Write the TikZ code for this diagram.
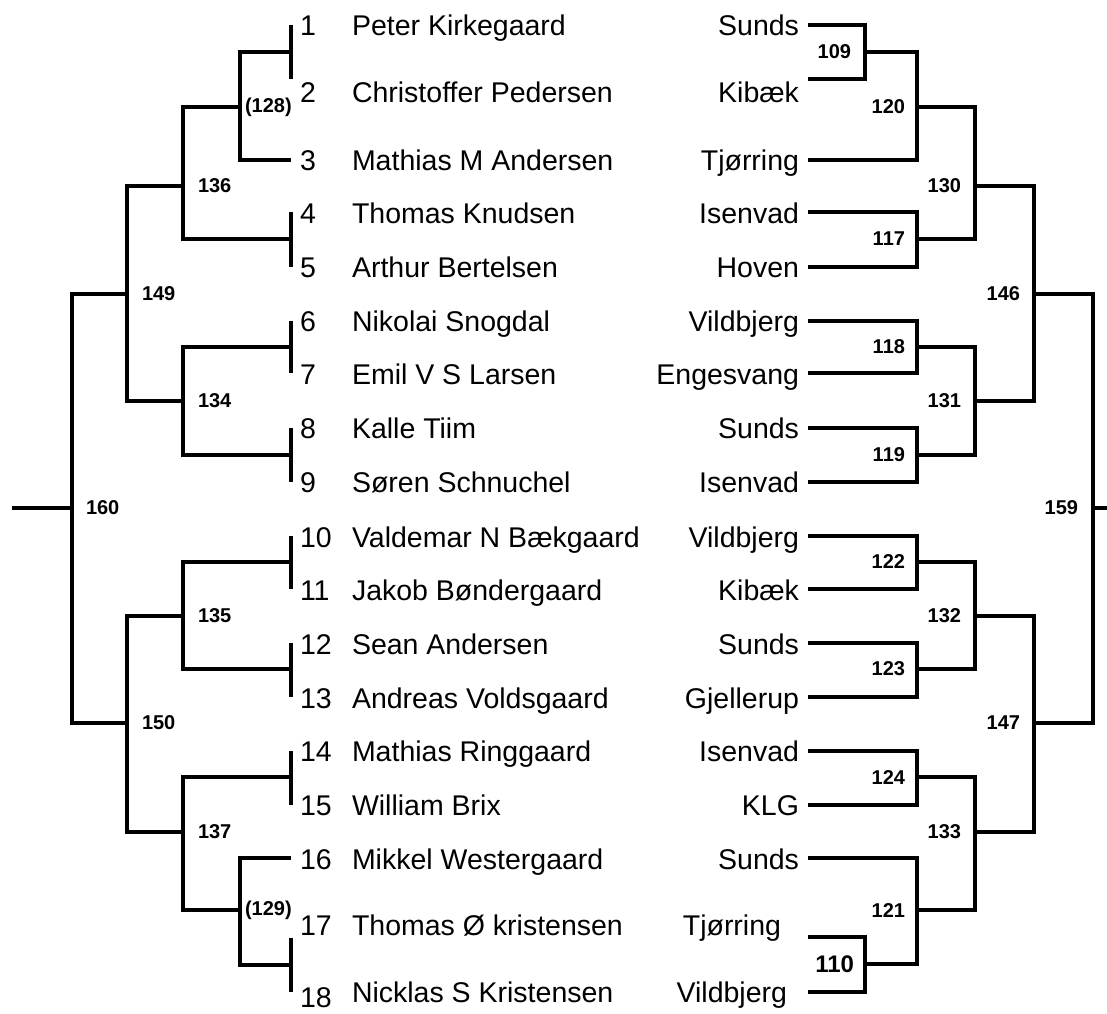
\documentclass[tikz,border=0pt]{standalone}
\usepackage{fontspec}
\setmainfont{Liberation Sans}

\begin{document}
\begin{tikzpicture}[x=1pt,y=-1pt,line width=4pt,line join=miter]
            \useasboundingbox (0,0) rectangle (1107,1013);

            \begin{scope}[every node/.style={inner sep=0pt,font=\fontsize{28.5}{30}\selectfont}]
                \node[anchor=base west] (N1) at (298,35) {1};
                \node[anchor=base west] (N2) at (298,102) {2};
                \node[anchor=base west] (N3) at (298,170) {3};
                \node[anchor=base west] (N4) at (298,223) {4};
                \node[anchor=base west] (N5) at (298,277) {5};
                \node[anchor=base west] (N6) at (298,331) {6};
                \node[anchor=base west] (N7) at (298,384) {7};
                \node[anchor=base west] (N8) at (298,438) {8};
                \node[anchor=base west] (N9) at (298,492) {9};
                \node[anchor=base west] (N10) at (298,547) {10};
                \node[anchor=base west] (N11) at (298,600) {11};
                \node[anchor=base west] (N12) at (298,654) {12};
                \node[anchor=base west] (N13) at (298,708) {13};
                \node[anchor=base west] (N14) at (298,761) {14};
                \node[anchor=base west] (N15) at (298,815) {15};
                \node[anchor=base west] (N16) at (298,869) {16};
                \node[anchor=base west] (N17) at (298,935) {17};
                \node[anchor=base west] (N18) at (298,1007) {18};

                \node[anchor=base west] (P1) at (350,35) {Peter Kirkegaard};
                \node[anchor=base west] (P2) at (350,102) {Christoffer Pedersen};
                \node[anchor=base west] (P3) at (350,170) {Mathias M Andersen};
                \node[anchor=base west] (P4) at (350,223) {Thomas Knudsen};
                \node[anchor=base west] (P5) at (350,277) {Arthur Bertelsen};
                \node[anchor=base west] (P6) at (350,331) {Nikolai Snogdal};
                \node[anchor=base west] (P7) at (350,384) {Emil V S Larsen};
                \node[anchor=base west] (P8) at (350,438) {Kalle Tiim};
                \node[anchor=base west] (P9) at (350,492) {Søren Schnuchel};
                \node[anchor=base west] (P10) at (350,547) {Valdemar N Bækgaard};
                \node[anchor=base west] (P11) at (350,600) {Jakob Bøndergaard};
                \node[anchor=base west] (P12) at (350,654) {Sean Andersen};
                \node[anchor=base west] (P13) at (350,708) {Andreas Voldsgaard};
                \node[anchor=base west] (P14) at (350,761) {Mathias Ringgaard};
                \node[anchor=base west] (P15) at (350,815) {William Brix};
                \node[anchor=base west] (P16) at (350,869) {Mikkel Westergaard};
                \node[anchor=base west] (P17) at (350,935) {Thomas Ø kristensen};
                \node[anchor=base west] (P18) at (350,1002) {Nicklas S Kristensen};

                \node[anchor=base east] (C1) at (801,35) {Sunds};
                \node[anchor=base east] (C2) at (801,102) {Kibæk};
                \node[anchor=base east] (C3) at (801,170) {Tjørring};
                \node[anchor=base east] (C4) at (801,223) {Isenvad};
                \node[anchor=base east] (C5) at (801,277) {Hoven};
                \node[anchor=base east] (C6) at (801,331) {Vildbjerg};
                \node[anchor=base east] (C7) at (801,384) {Engesvang};
                \node[anchor=base east] (C8) at (801,438) {Sunds};
                \node[anchor=base east] (C9) at (801,492) {Isenvad};
                \node[anchor=base east] (C10) at (801,547) {Vildbjerg};
                \node[anchor=base east] (C11) at (801,600) {Kibæk};
                \node[anchor=base east] (C12) at (801,654) {Sunds};
                \node[anchor=base east] (C13) at (801,708) {Gjellerup};
                \node[anchor=base east] (C14) at (801,761) {Isenvad};
                \node[anchor=base east] (C15) at (801,815) {KLG};
                \node[anchor=base east] (C16) at (801,869) {Sunds};
                \node[anchor=base east] (C17) at (783,935) {Tjørring};
                \node[anchor=base east] (C18) at (789,1002) {Vildbjerg};
            \end{scope}

            \coordinate (L1) at (291,25);
            \coordinate (L2) at (291,79);
            \coordinate (L3) at (291,160);
            \coordinate (L4) at (291,212);
            \coordinate (L5) at (291,267);
            \coordinate (L6) at (291,321);
            \coordinate (L7) at (291,373);
            \coordinate (L8) at (291,428);
            \coordinate (L9) at (291,482);
            \coordinate (L10) at (291,536);
            \coordinate (L11) at (291,589);
            \coordinate (L12) at (291,643);
            \coordinate (L13) at (291,697);
            \coordinate (L14) at (291,751);
            \coordinate (L15) at (291,805);
            \coordinate (L16) at (291,858);
            \coordinate (L17) at (291,938);
            \coordinate (L18) at (291,992);

            \coordinate (T12) at (291,52);
            \coordinate (T45) at (291,239);
            \coordinate (T67) at (291,347);
            \coordinate (T89) at (291,455);
            \coordinate (T1011) at (291,562);
            \coordinate (T1213) at (291,669);
            \coordinate (T1415) at (291,777);
            \coordinate (T1718) at (291,965);

            \coordinate (J128) at (240,107);
            \coordinate (J136) at (183,186);
            \coordinate (J134) at (183,401);
            \coordinate (J149) at (127,294);
            \coordinate (J135) at (183,616);
            \coordinate (J137) at (183,832);
            \coordinate (J129) at (240,910);
            \coordinate (J150) at (127,723);
            \coordinate (J160) at (72,508);
            \coordinate (W) at (12,508);

            \draw (L1) -- (L2);
            \draw (L4) -- (L5);
            \draw (L6) -- (L7);
            \draw (L8) -- (L9);
            \draw (L10) -- (L11);
            \draw (L12) -- (L13);
            \draw (L14) -- (L15);
            \draw (L17) -- (L18);

            \draw (T12) -| (J128) |- (L3);
            \draw (J128) -| (J136) |- (T45);
            \draw (T67) -| (J134) |- (T89);
            \draw (J136) -| (J149) |- (J134);
            \draw (T1011) -| (J135) |- (T1213);
            \draw (L16) -| (J129) |- (T1718);
            \draw (T1415) -| (J137) |- (J129);
            \draw (J135) -| (J150) |- (J137);
            \draw (J149) -| (J160) |- (J150);
            \draw (J160) -- (W);

            \coordinate (R1) at (808,25);
            \coordinate (R2) at (808,79);
            \coordinate (R3) at (808,160);
            \coordinate (R4) at (808,212);
            \coordinate (R5) at (808,267);
            \coordinate (R6) at (808,321);
            \coordinate (R7) at (808,373);
            \coordinate (R8) at (808,428);
            \coordinate (R9) at (808,482);
            \coordinate (R10) at (808,536);
            \coordinate (R11) at (808,589);
            \coordinate (R12) at (808,643);
            \coordinate (R13) at (808,697);
            \coordinate (R14) at (808,751);
            \coordinate (R15) at (808,805);
            \coordinate (R16) at (808,858);
            \coordinate (R17) at (808,937);
            \coordinate (R18) at (808,992);

            \coordinate (K109) at (865,52);
            \coordinate (K110) at (865,964);
            \coordinate (K117) at (917,239);
            \coordinate (K118) at (917,347);
            \coordinate (K119) at (917,455);
            \coordinate (K120) at (917,107);
            \coordinate (K121) at (917,910);
            \coordinate (K122) at (917,562);
            \coordinate (K123) at (917,669);
            \coordinate (K124) at (917,777);
            \coordinate (K130) at (975,186);
            \coordinate (K131) at (975,401);
            \coordinate (K132) at (975,616);
            \coordinate (K133) at (975,832);
            \coordinate (K146) at (1034,294);
            \coordinate (K147) at (1034,723);
            \coordinate (K159) at (1093,508);
            \coordinate (E) at (1107,508);

            \draw (R1) -| (K109) |- (R2);
            \draw (K109) -| (K120) |- (R3);
            \draw (R4) -| (K117) |- (R5);
            \draw (K120) -| (K130) |- (K117);
            \draw (R6) -| (K118) |- (R7);
            \draw (R8) -| (K119) |- (R9);
            \draw (K118) -| (K131) |- (K119);
            \draw (K130) -| (K146) |- (K131);
            \draw (R10) -| (K122) |- (R11);
            \draw (R12) -| (K123) |- (R13);
            \draw (K122) -| (K132) |- (K123);
            \draw (R14) -| (K124) |- (R15);
            \draw (R17) -| (K110) |- (R18);
            \draw (R16) -| (K121) |- (K110);
            \draw (K124) -| (K133) |- (K121);
            \draw (K132) -| (K147) |- (K133);
            \draw (K146) -| (K159) |- (K147);
            \draw (K159) -- (E);

            \begin{scope}[every node/.style={inner sep=0pt,font=\bfseries\fontsize{20}{22}\selectfont}]
                \node[anchor=west] (M128) at ([xshift=3pt]J128) {(128)};
                \node[anchor=west] (M129) at ([xshift=3pt]J129) {(129)};
                \node[anchor=west] (M136) at ([xshift=13pt]J136) {136};
                \node[anchor=west] (M134) at ([xshift=13pt]J134) {134};
                \node[anchor=west] (M135) at ([xshift=13pt]J135) {135};
                \node[anchor=west] (M137) at ([xshift=13pt]J137) {137};
                \node[anchor=west] (M149) at ([xshift=13pt]J149) {149};
                \node[anchor=west] (M150) at ([xshift=13pt]J150) {150};
                \node[anchor=west] (M160) at ([xshift=12pt]J160) {160};

                \node[anchor=east] (M109) at ([xshift=-12pt]K109) {109};
                \node[anchor=east,font=\bfseries\fontsize{24}{26}\selectfont] (M110) at ([xshift=-9pt]K110) {110};
                \node[anchor=east] (M117) at ([xshift=-10pt]K117) {117};
                \node[anchor=east] (M118) at ([xshift=-10pt]K118) {118};
                \node[anchor=east] (M119) at ([xshift=-10pt]K119) {119};
                \node[anchor=east] (M120) at ([xshift=-10pt]K120) {120};
                \node[anchor=east] (M121) at ([xshift=-10pt]K121) {121};
                \node[anchor=east] (M122) at ([xshift=-10pt]K122) {122};
                \node[anchor=east] (M123) at ([xshift=-10pt]K123) {123};
                \node[anchor=east] (M124) at ([xshift=-10pt]K124) {124};
                \node[anchor=east] (M130) at ([xshift=-12pt]K130) {130};
                \node[anchor=east] (M131) at ([xshift=-12pt]K131) {131};
                \node[anchor=east] (M132) at ([xshift=-12pt]K132) {132};
                \node[anchor=east] (M133) at ([xshift=-12pt]K133) {133};
                \node[anchor=east] (M146) at ([xshift=-12pt]K146) {146};
                \node[anchor=east] (M147) at ([xshift=-12pt]K147) {147};
                \node[anchor=east] (M159) at ([xshift=-13pt]K159) {159};
            \end{scope}
\end{tikzpicture}
\end{document}
